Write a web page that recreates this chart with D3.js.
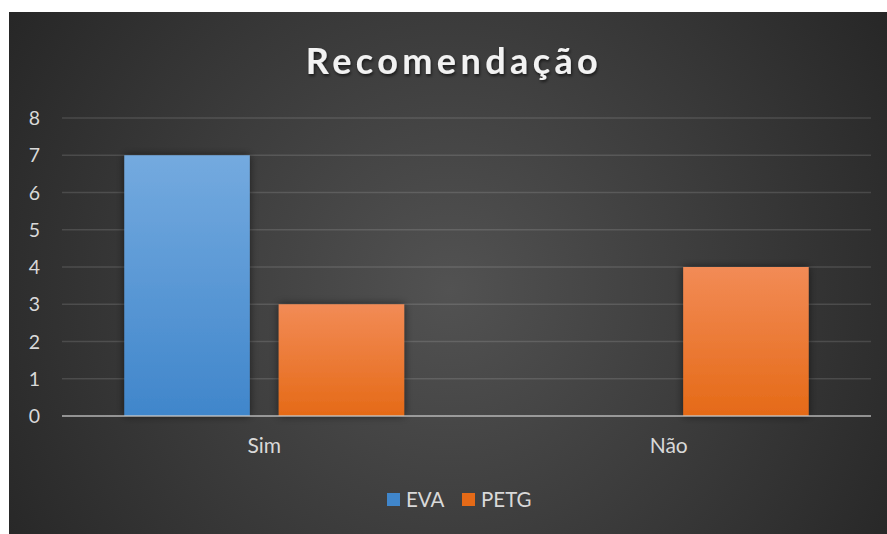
<!DOCTYPE html>
<html>
<head>
<meta charset="utf-8">
<script src="https://cdn.jsdelivr.net/npm/d3@7"></script>
<style>
  body { margin: 0; background: #fff; }
  svg { display: block; font-family: Lato, "Open Sans", sans-serif; }
</style>
</head>
<body>
<script>
var WIDTH = 887, HEIGHT = 534;
var categories = ["Sim", "Não"];
var series = ["EVA", "PETG"];
var evaValues = [7, 0];
var petgValues = [3, 4];
var yTicks = [0, 1, 2, 3, 4, 5, 6, 7, 8];
var title = "Recomendação";

var colors = { EVA: ["#74aadf", "#4086cb"], PETG: ["#f28b56", "#e56a17"] };
var values = { EVA: evaValues, PETG: petgValues };

// plot area (don't use "top" as a global name, it clashes with window.top)
var plotLeft = 62, plotRight = 871, plotTop = 118, plotBottom = 416;

var svg = d3.select("body").append("svg")
  .attr("width", WIDTH).attr("height", HEIGHT);

var defs = svg.append("defs");
var bg = defs.append("radialGradient").attr("id", "bg")
  .attr("gradientUnits", "userSpaceOnUse")
  .attr("cx", 450).attr("cy", 290).attr("r", 540);
bg.append("stop").attr("offset", "0%").attr("stop-color", "#525252");
bg.append("stop").attr("offset", "100%").attr("stop-color", "#252525");

series.forEach(function(s) {
  var g = defs.append("linearGradient").attr("id", "g" + s)
    .attr("x1", 0).attr("y1", 0).attr("x2", 0).attr("y2", 1);
  g.append("stop").attr("offset", "0%").attr("stop-color", colors[s][0]);
  g.append("stop").attr("offset", "100%").attr("stop-color", colors[s][1]);
});

var shadow = defs.append("filter").attr("id", "shadow")
  .attr("x", "-20%").attr("y", "-20%").attr("width", "140%").attr("height", "140%");
shadow.append("feDropShadow").attr("dx", 0).attr("dy", 0).attr("stdDeviation", 4)
  .attr("flood-color", "#000").attr("flood-opacity", 0.55);

var tshadow = defs.append("filter").attr("id", "tshadow")
  .attr("x", "-10%").attr("y", "-30%").attr("width", "120%").attr("height", "160%");
tshadow.append("feDropShadow").attr("dx", 1).attr("dy", 2).attr("stdDeviation", 1.5)
  .attr("flood-color", "#000").attr("flood-opacity", 0.6);

// background
svg.append("rect").attr("x", 9).attr("y", 12)
  .attr("width", WIDTH - 9).attr("height", HEIGHT - 12)
  .attr("fill", "url(#bg)");

var y = d3.scaleLinear().domain([0, 8]).range([plotBottom, plotTop]);
var x0 = d3.scaleBand().domain(categories).range([plotLeft, plotRight]).paddingInner(0.308).paddingOuter(0.154);
var x1 = d3.scaleBand().domain(series).range([0, x0.bandwidth()]).paddingInner(0.187);

// gridlines
svg.append("g").selectAll("line")
  .data(yTicks.filter(function(d) { return d > 0; }))
  .enter().append("line")
  .attr("x1", plotLeft).attr("x2", plotRight)
  .attr("y1", function(d) { return y(d); }).attr("y2", function(d) { return y(d); })
  .attr("stroke", "#ffffff").attr("stroke-opacity", 0.13).attr("stroke-width", 1.5);

// y labels
svg.append("g").selectAll("text")
  .data(yTicks).enter().append("text")
  .attr("x", 40).attr("y", function(d) { return y(d); })
  .attr("dy", "0.36em").attr("text-anchor", "end")
  .attr("fill", "#d9d9d9").attr("font-size", 19.5)
  .text(function(d) { return d; });

// bars
var groups = svg.append("g").selectAll("g")
  .data(categories).enter().append("g")
  .attr("transform", function(c) { return "translate(" + x0(c) + ",0)"; });

groups.selectAll("rect")
  .data(function(c, i) {
    return series.map(function(s) { return { s: s, v: values[s][i] }; })
      .filter(function(d) { return d.v > 0; });
  })
  .enter().append("rect")
  .attr("x", function(d) { return x1(d.s); })
  .attr("y", function(d) { return y(d.v); })
  .attr("width", x1.bandwidth())
  .attr("height", function(d) { return plotBottom - y(d.v); })
  .attr("fill", function(d) { return "url(#g" + d.s + ")"; })
  .attr("filter", "url(#shadow)");

// axis line
svg.append("line")
  .attr("x1", plotLeft).attr("x2", plotRight).attr("y1", plotBottom).attr("y2", plotBottom)
  .attr("stroke", "#c8c8c8").attr("stroke-opacity", 0.65).attr("stroke-width", 2.2);

// category labels
svg.append("g").selectAll("text")
  .data(categories).enter().append("text")
  .attr("x", function(c) { return x0(c) + x0.bandwidth() / 2; })
  .attr("y", 453).attr("text-anchor", "middle")
  .attr("fill", "#d9d9d9").attr("font-size", 21)
  .text(function(c) { return c; });

// title
svg.append("text")
  .attr("x", 454).attr("y", 74).attr("text-anchor", "middle")
  .attr("fill", "#f2f2f2").attr("font-size", 36).attr("font-weight", "bold")
  .attr("letter-spacing", 4.4).attr("filter", "url(#tshadow)")
  .text(title);

// legend
var legendX = [387, 462];
var legend = svg.append("g").selectAll("g")
  .data(series).enter().append("g")
  .attr("transform", function(d, i) { return "translate(" + legendX[i] + ",493)"; });
legend.append("rect").attr("width", 13).attr("height", 13)
  .attr("fill", function(d) { return colors[d][1]; });
legend.append("text").attr("x", 19).attr("y", 14)
  .attr("fill", "#d9d9d9").attr("font-size", 20.5)
  .text(function(d) { return d; });
</script>
</body>
</html>
